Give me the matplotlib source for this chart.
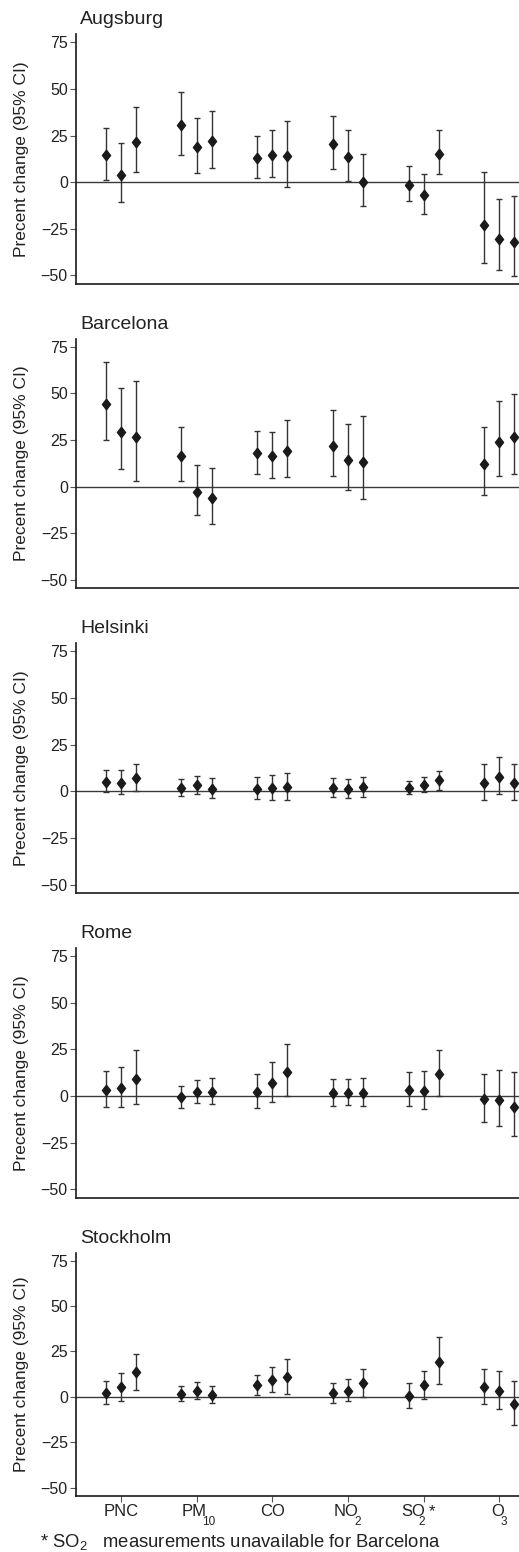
import matplotlib.pyplot as plt
import numpy as np

plt.rcParams['font.family'] = ['Liberation Sans', 'DejaVu Sans']
plt.rcParams['mathtext.fontset'] = 'custom'
plt.rcParams['mathtext.rm'] = 'Liberation Sans'
plt.rcParams['mathtext.default'] = 'regular'

cities = ["Augsburg", "Barcelona", "Helsinki", "Rome", "Stockholm"]
# pollutant label = main text + subscript (+ suffix)
pollutant_main = ["PNC", "PM", "CO", "NO", "SO", "O"]
pollutant_sub = ["", "10", "", "2", "2", "3"]
pollutant_suffix = ["", "", "", "", "*", ""]
yticks = [-50, -25, 0, 25, 50, 75]

# per pollutant: three estimates (lag groups), with lower / upper 95% CI
augsburg_est = [[14.3, 3.8, 21.6], [30.4, 18.6, 22.0], [13.0, 14.5, 13.8],
                [20.4, 13.6, 0.0], [-1.3, -7.0, 15.2], [-22.9, -30.7, -32.3]]
augsburg_lo = [[1.4, -10.9, 5.2], [14.8, 4.8, 7.5], [2.1, 2.5, -2.7],
               [6.8, 0.5, -13.0], [-10.4, -17.3, 4.1], [-43.2, -47.1, -50.4]]
augsburg_hi = [[28.8, 21.1, 40.4], [48.2, 34.3, 38.4], [24.8, 28.0, 33.0],
               [35.7, 28.2, 15.2], [8.4, 4.6, 27.9], [5.4, -8.9, -7.7]]

barcelona_est = [[44.3, 29.3, 26.8], [16.4, -2.9, -6.3], [17.9, 16.3, 19.3],
                 [22.0, 14.5, 13.4], [np.nan, np.nan, np.nan], [12.1, 23.9, 26.4]]
barcelona_lo = [[24.8, 9.3, 3.2], [2.9, -15.0, -20.0], [7.0, 4.6, 5.0],
                [5.9, -1.8, -6.8], [np.nan, np.nan, np.nan], [-4.5, 5.5, 6.8]]
barcelona_hi = [[67.0, 52.9, 56.4], [31.8, 11.4, 10.2], [30.0, 29.3, 35.7],
                [40.9, 33.4, 38.0], [np.nan, np.nan, np.nan], [32.0, 45.7, 49.8]]

helsinki_est = [[5.2, 4.5, 7.1], [2.0, 3.4, 1.4], [1.4, 1.8, 2.3],
                [2.0, 1.3, 2.1], [2.0, 3.6, 5.9], [4.6, 7.9, 4.6]]
helsinki_lo = [[-0.4, -1.4, 0.2], [-2.5, -1.4, -3.8], [-4.1, -4.6, -4.5],
               [-3.0, -3.8, -3.0], [-1.4, -0.4, 0.9], [-4.6, -1.4, -4.8]]
helsinki_hi = [[11.3, 11.3, 14.5], [6.8, 8.4, 7.0], [7.7, 8.8, 10.0],
               [7.3, 6.6, 7.9], [5.7, 7.7, 11.1], [14.8, 18.6, 14.8]]

rome_est = [[3.2, 4.1, 9.1], [-0.5, 2.1, 2.3], [2.3, 7.0, 13.0],
            [1.8, 1.8, 1.8], [3.2, 2.7, 11.8], [-1.8, -2.3, -6.1]]
rome_lo = [[-6.1, -6.1, -4.5], [-6.4, -3.8, -4.3], [-6.4, -3.0, 0.0],
           [-5.2, -5.0, -5.5], [-5.4, -7.1, 0.2], [-13.8, -16.3, -21.6]]
rome_hi = [[13.2, 15.7, 24.6], [5.5, 8.8, 9.5], [12.0, 18.0, 27.9],
           [9.3, 9.3, 9.8], [12.7, 13.6, 24.8], [12.0, 13.9, 12.7]]

stockholm_est = [[2.4, 5.3, 13.5], [1.8, 3.5, 1.3], [6.4, 9.5, 11.0],
                 [2.2, 3.5, 7.5], [0.5, 6.4, 19.0], [5.3, 3.3, -4.0]]
stockholm_lo = [[-3.7, -2.0, 4.0], [-2.4, -1.1, -3.5], [1.1, 2.7, 1.6],
                [-3.3, -2.4, 0.2], [-6.0, -0.9, 6.9], [-3.7, -6.6, -15.4]]
stockholm_hi = [[8.8, 13.0, 23.8], [6.2, 8.2, 6.2], [11.9, 16.6, 21.0],
                [7.9, 10.1, 15.5], [7.9, 14.1, 32.7], [15.5, 14.4, 9.0]]

estimates = [augsburg_est, barcelona_est, helsinki_est, rome_est, stockholm_est]
lowers = [augsburg_lo, barcelona_lo, helsinki_lo, rome_lo, stockholm_lo]
uppers = [augsburg_hi, barcelona_hi, helsinki_hi, rome_hi, stockholm_hi]

offsets = np.array([-0.2, 0.0, 0.2])
diamond = [(0, 1), (0.78, 0), (0, -1), (-0.78, 0), (0, 1)]
W, H = 519, 1552
panel_tops = [34.3, 338.7, 643.3, 948.0, 1252.7]
panel_heights = [249.4, 249.6, 249.7, 249.7, 243.3]
ax_left = 75.5
# x-label placement in pixels relative to the tick: main centre, sub left, suffix left
label_dx = [(0, 0, 0), (-2.5, 5, 0), (0, 0, 0), (-2.2, 6, 0), (-10, -5.7, 4.8), (-1.5, 1.5, 0)]
PT = 0.72  # points per pixel at dpi 100

fig = plt.figure(figsize=(W / 100, H / 100), dpi=100)

for i, city in enumerate(cities):
    top, h = panel_tops[i], panel_heights[i]
    ax = fig.add_axes([ax_left / W, 1 - (top + h) / H, 1 - ax_left / W, h / H])
    est = np.array(estimates[i], dtype=float)
    lo = np.array(lowers[i], dtype=float)
    hi = np.array(uppers[i], dtype=float)
    x = (np.arange(len(pollutant_main))[:, None] + offsets[None, :]).ravel()
    est, lo, hi = est.ravel(), lo.ravel(), hi.ravel()
    ok = ~np.isnan(est)

    ax.axhline(0, color="#3a3a3a", lw=1.0, zorder=1)
    ax.errorbar(x[ok], est[ok], yerr=[est[ok] - lo[ok], hi[ok] - est[ok]],
                fmt="none", ecolor="#333333", elinewidth=1.0,
                capsize=2.4, capthick=1.0, zorder=2)
    ax.plot(x[ok], est[ok], ls="none", marker=diamond, ms=7.5,
            color="#1a1a1a", zorder=3)

    ax.set_xlim(-0.6, 5.26)
    ax.set_ylim(-54.5, 79.3)
    ax.set_yticks(yticks)
    ax.set_yticklabels([f"{v}".replace("-", "\u2212") for v in yticks])
    for s in ("top", "right"):
        ax.spines[s].set_visible(False)
    for s in ("left", "bottom"):
        ax.spines[s].set_color("#1a1a1a")
        ax.spines[s].set_linewidth(1.2)
    ax.tick_params(axis="y", length=4, width=0.8, color="#555555",
                   labelsize=11.5, labelcolor="#222222", pad=1.5)

    if i == len(cities) - 1:
        ax.set_xticks(np.arange(len(pollutant_main)))
        ax.set_xticklabels([])
        ax.tick_params(axis="x", length=4, width=0.8, color="#555555")
        trans = ax.get_xaxis_transform()
        for j, name in enumerate(pollutant_main):
            mdx, sdx, fdx = label_dx[j]
            ax.annotate(name, xy=(j, 0), xycoords=trans,
                        xytext=(mdx * PT, -20 * PT), textcoords="offset points",
                        ha="center", va="baseline", fontsize=12, color="#222222")
            if pollutant_sub[j]:
                ax.annotate(pollutant_sub[j], xy=(j, 0), xycoords=trans,
                            xytext=(sdx * PT, -29 * PT), textcoords="offset points",
                            ha="left", va="baseline", fontsize=8.5, color="#222222")
            if pollutant_suffix[j]:
                ax.annotate(pollutant_suffix[j], xy=(j, 0), xycoords=trans,
                            xytext=(fdx * PT, -20 * PT), textcoords="offset points",
                            ha="left", va="baseline", fontsize=12, color="#222222")
    else:
        ax.set_xticks([])

    ax.set_ylabel("Precent change (95% CI)", fontsize=12.5, color="#222222")
    ax.yaxis.set_label_coords(-0.105, 0.5)
    ax.annotate(city, xy=(0, 1), xycoords="axes fraction",
                xytext=(3.3, 7.2), textcoords="offset points",
                fontsize=14, color="#222222", va="baseline", ha="left")

fig.text(40 / W, 1 - 1546.5 / H, r"* SO$_{2}$   measurements unavailable for Barcelona",
         fontsize=13.3, color="#222222", va="baseline", ha="left")

fig.savefig("out.png", dpi=100)
